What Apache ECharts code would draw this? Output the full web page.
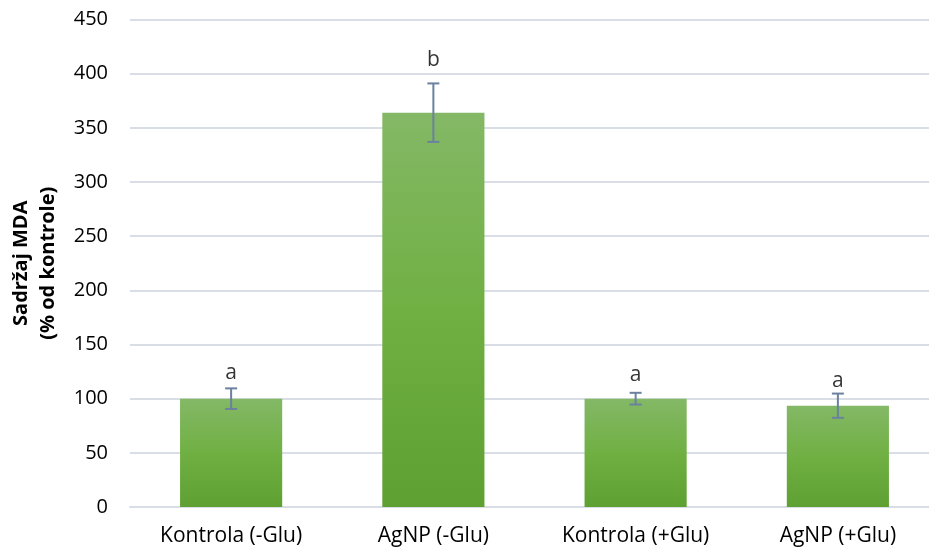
<!DOCTYPE html>
<html>
<head>
<meta charset="utf-8">
<script src="https://cdn.jsdelivr.net/npm/echarts@6/dist/echarts.min.js"></script>
<style>
html,body{margin:0;padding:0;background:#fff;overflow:hidden;width:929px;height:552px;}
#c{width:940px;height:552px;}
</style>
</head>
<body>
<div id="c"></div>
<script>
var categories = ['Kontrola (-Glu)', 'AgNP (-Glu)', 'Kontrola (+Glu)', 'AgNP (+Glu)'];
var values = [100, 364, 100, 93.5];
var errors = [9.5, 27, 5.4, 11.2];
var letters = ['a', 'b', 'a', 'a'];
var letterY = [124, 413, 122, 116];
var yTicks = [0, 50, 100, 150, 200, 250, 300, 350, 400, 450];

var FONT = '"Open Sans", sans-serif';
var chart = echarts.init(document.getElementById('c'));

var errData = categories.map(function (c, i) { return [i, values[i] - errors[i], values[i] + errors[i]]; });
var letterData = categories.map(function (c, i) { return [i, letterY[i], letters[i]]; });

chart.setOption({
  animation: false,
  grid: { left: 130, top: 19.5, width: 809, height: 487.5, containLabel: false },
  xAxis: {
    type: 'category',
    data: categories,
    axisLine: { show: true, lineStyle: { color: '#d9dde5', width: 2 } },
    axisTick: { show: false },
    axisLabel: { color: '#000', fontFamily: FONT, fontSize: 21, margin: 19 }
  },
  yAxis: {
    type: 'value',
    min: yTicks[0],
    max: yTicks[yTicks.length - 1],
    interval: 50,
    axisLine: { show: false },
    axisTick: { show: false },
    splitLine: { lineStyle: { color: '#d9dde5', width: 2 } },
    axisLabel: { color: '#000', fontFamily: FONT, fontSize: 20, margin: 22 },
    name: 'Sadržaj MDA\n(% od kontrole)',
    nameLocation: 'middle',
    nameRotate: 90,
    nameGap: 68,
    nameTextStyle: { color: '#000', fontFamily: FONT, fontSize: 20, fontWeight: 'bold', lineHeight: 27 }
  },
  series: [
    {
      type: 'bar',
      data: values,
      barWidth: '50.5%',
      itemStyle: {
        color: new echarts.graphic.LinearGradient(0, 0, 0, 1, [
          { offset: 0, color: '#84b866' },
          { offset: 0.5, color: '#70b043' },
          { offset: 1, color: '#5fa032' }
        ])
      }
    },
    {
      type: 'custom',
      data: errData,
      z: 5,
      renderItem: function (params, api) {
        var x = api.value(0);
        var lo = api.coord([x, api.value(1)]);
        var hi = api.coord([x, api.value(2)]);
        var hw = 6;
        var st = { stroke: '#6a819f', lineWidth: 2 };
        return {
          type: 'group',
          children: [
            { type: 'line', shape: { x1: lo[0], y1: lo[1], x2: hi[0], y2: hi[1] }, style: st },
            { type: 'line', shape: { x1: lo[0] - hw, y1: lo[1], x2: lo[0] + hw, y2: lo[1] }, style: st },
            { type: 'line', shape: { x1: hi[0] - hw, y1: hi[1], x2: hi[0] + hw, y2: hi[1] }, style: st }
          ]
        };
      }
    },
    {
      type: 'scatter',
      data: letterData,
      symbolSize: 0,
      z: 6,
      label: {
        show: true,
        position: 'inside',
        formatter: function (p) { return p.value[2]; },
        color: '#000',
        fontFamily: FONT,
        fontSize: 21
      }
    }
  ]
});
</script>
</body>
</html>
